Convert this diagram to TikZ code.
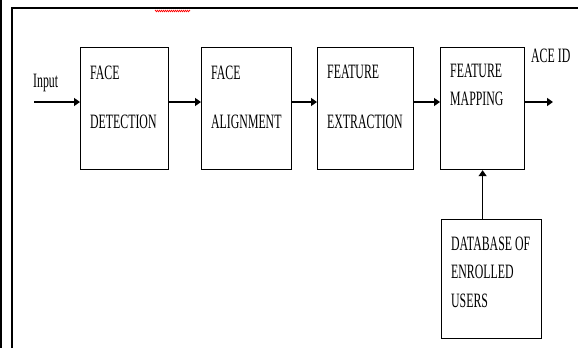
\documentclass[tikz,border=0pt]{standalone}
\usepackage{fontspec}
\setmainfont{Liberation Serif}[FakeStretch=0.58]
\usetikzlibrary{arrows.meta,decorations.pathmorphing}

\begin{document}
\begin{tikzpicture}[x=1pt, y=-1pt,
        blockbox/.style={draw, line width=1.2pt, anchor=north west, inner sep=0pt},
        lbl/.style={anchor=base west, inner sep=0pt, font=\fontsize{20.4}{24}\selectfont},
        flow/.style={line width=1.3pt, -{Triangle[length=6pt, width=8pt]}}]
        \useasboundingbox (0,0) rectangle (578,348);

        % Page edges
        \fill (0,0) rectangle (2,348);
        \draw[line width=2pt] (12,348) -- (12,8) -- (578,8);
        \draw[red, line width=0.6pt, decorate, decoration={zigzag, amplitude=0.8pt, segment length=2pt}] (155,11) -- (190,11);

        % Blocks
        \foreach \name/\x/\y/\w/\h in {det/80/47/88/122, ali/201/47/90/122, ext/317/47/96/122, map/440/47/84/122, dbase/441/219/100/119} {
            \node[blockbox, minimum width=\w pt, minimum height=\h pt] (\name) at (\x,\y) {};
        }

        % Block texts
        \foreach \name/\dy/\txt in {det/32/FACE, det/81/DETECTION, ali/32/FACE, ali/81/ALIGNMENT, ext/31/FEATURE, ext/81/EXTRACTION, map/30/FEATURE, map/58/MAPPING, dbase/31/DATABASE OF, dbase/59/ENROLLED, dbase/88/USERS} {
            \node[lbl] (\name-\dy) at ([xshift=10pt, yshift=-\dy pt]\name.north west) {\txt};
        }

        % Input and output
        \node[lbl] (inp) at (33,87) {Input};
        \node[lbl] (aceid) at (531,62) {ACE ID};
        \coordinate (src) at (34,102);
        \coordinate (out) at (553,102);

        % Arrows
        \draw[flow] (src) -- (src -| det.west);
        \draw[flow] (det.east |- src) -- (ali.west |- src);
        \draw[flow] (ali.east |- src) -- (ext.west |- src);
        \draw[flow] (ext.east |- src) -- (map.west |- src);
        \draw[flow, line width=2pt] (map.east |- src) -- (out);
        \draw[flow] (dbase.north -| map.south) -- (map.south);
\end{tikzpicture}
\end{document}
